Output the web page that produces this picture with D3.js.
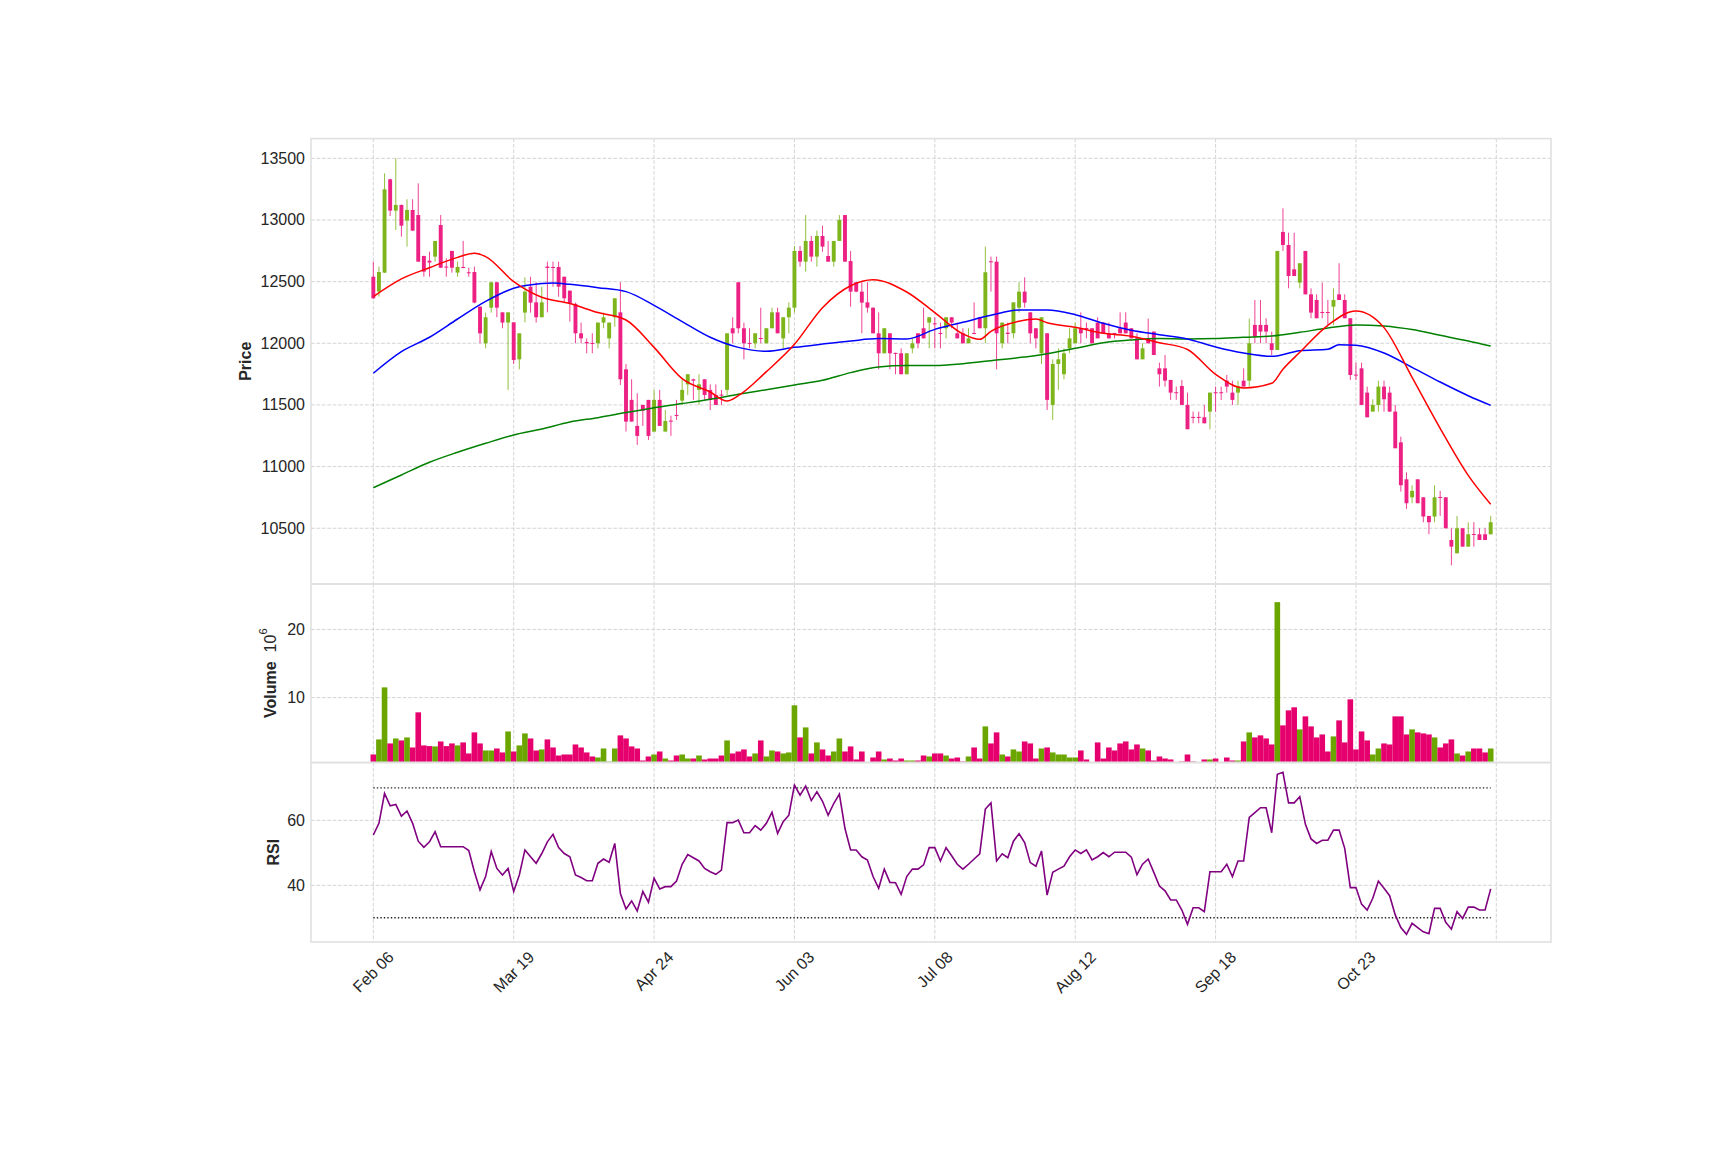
<!DOCTYPE html>
<html><head><meta charset="utf-8">
<script src="https://cdn.jsdelivr.net/npm/d3@7/dist/d3.min.js"></script>
<style>html,body{margin:0;padding:0;background:#fff;} svg{display:block;font-family:"Liberation Sans",Arial,sans-serif;}</style>
</head><body><svg id="c" width="1725" height="1150"></svg>
<script>
// ---------------- DATA ----------------
const tickIdx = [0,25,50,75,100,125,150,175,200];
const tickLabels = ["Feb 06","Mar 19","Apr 24","Jun 03","Jul 08","Aug 12","Sep 18","Oct 23",""];
const priceTicks = [10500,11000,11500,12000,12500,13000,13500];
const volTicks = [10,20];
const rsiTicks = [40,60];

const open = [12540,12419,12573,13330,13076,13122,12995,13081,13040,12708,12670,12703,12959,12622,12749,12573,12619,12576,12578,12297,12000,12289,12495,12251,12168,12170,11870,12249,12459,12332,12211,12622,12619,12619,12540,12427,12320,12081,12011,12003,12000,12168,12040,12211,12251,11789,11541,11330,11500,11541,11284,11541,11284,11373,11419,11535,11667,11708,11622,11708,11622,11581,11584,11622,12122,12495,12122,12003,12000,12043,12000,12122,12251,12040,12211,12289,12749,12662,12830,12703,12870,12708,12662,12830,13040,12667,12495,12419,12332,12289,12081,11919,12081,11922,11919,11749,11959,12081,12122,12168,12162,12084,12122,12211,12081,12081,12000,12084,12211,12122,12665,12662,12000,12086,12081,12289,12419,12251,12122,11919,12081,11500,11832,11749,11959,12000,12122,12124,12122,12168,12168,12081,12084,12122,12168,12122,12040,11870,12040,12095,11797,11797,11703,11603,11654,11500,11403,11403,11400,11446,11603,11603,11697,11600,11600,11697,11697,12149,12149,12149,12000,11946,12903,12797,12600,12492,12749,12397,12351,12254,12254,12297,12397,12351,12203,11746,11797,11600,11446,11500,11649,11600,11446,11197,10897,10751,10897,10751,10600,10595,10754,10751,10405,10297,10500,10351,10454,10451,10451,10451];
const high = [12662,12622,13378,13335,13500,13125,13168,13168,13297,12710,12743,12830,13040,12689,12750,12662,12830,12613,12622,12300,12249,12495,12495,12251,12251,12170,12081,12535,12540,12495,12459,12662,12662,12662,12540,12427,12330,12168,12040,12081,12168,12249,12168,12365,12495,11832,11708,11595,11500,11541,11622,11622,11459,11413,11541,11708,11749,11713,11749,11708,11667,11667,11622,12081,12211,12495,12168,12122,12081,12289,12122,12289,12289,12211,12332,12789,12789,13040,12870,12914,12954,12830,12830,13040,13040,12749,12500,12495,12495,12289,12251,12122,12081,11924,11959,11919,12040,12081,12289,12211,12211,12168,12211,12211,12168,12122,12122,12332,12211,12784,12703,12703,12168,12168,12332,12495,12535,12251,12122,12211,12081,11870,11959,11959,12122,12168,12251,12168,12122,12211,12168,12168,12084,12251,12251,12122,12081,12000,12200,12095,11843,11905,11703,11649,11703,11600,11446,11446,11500,11600,11649,11649,11743,11697,11697,11797,12200,12351,12351,12203,12095,12749,13095,12897,12897,12649,12749,12446,12397,12492,12351,12446,12649,12397,12203,11843,11843,11649,11546,11697,11697,11649,11500,11243,10954,10849,10897,10751,10600,10849,10803,10751,10500,10600,10500,10549,10549,10500,10500,10600];
const low = [12360,12378,12570,13032,12919,12865,12784,12910,12660,12540,12540,12662,12610,12540,12573,12540,12608,12540,12324,12000,11959,12249,12211,12122,11622,11832,11789,12170,12249,12168,12211,12251,12459,12378,12330,12176,12000,12000,11919,11919,11959,12122,11959,12135,11662,11284,11365,11176,11330,11216,11284,11330,11284,11249,11378,11500,11581,11541,11500,11541,11459,11500,11500,11581,12000,12081,11870,11959,11959,12000,12000,12122,12081,11959,12081,12249,12622,12581,12662,12622,12743,12662,12622,12830,12662,12297,12414,12081,12249,12081,11789,11919,11789,11749,11749,11749,11919,11959,12040,11959,11959,11959,12040,12122,12040,12000,12000,12073,12122,12000,12419,11789,11959,12000,12040,12249,12289,12000,11959,11832,11459,11378,11622,11708,11919,12000,12000,12040,12000,12040,12081,12040,12040,12081,12081,12040,11870,11870,12000,11905,11649,11649,11541,11541,11500,11303,11351,11351,11351,11303,11446,11541,11600,11500,11500,11649,11649,12000,12000,12000,11905,11946,12749,12446,12546,12446,12397,12203,12203,12203,12149,12149,12351,12203,11703,11703,11500,11400,11446,11446,11446,11446,11149,10797,10657,10703,10703,10549,10451,10549,10600,10500,10200,10297,10351,10351,10351,10405,10405,10451];
const close = [12365,12578,13249,13076,13122,12954,13081,12914,12662,12581,12655,12830,12613,12616,12613,12619,12613,12570,12330,12081,12211,12495,12289,12168,12251,11865,12081,12419,12330,12211,12332,12611,12613,12459,12365,12324,12081,12040,12000,11997,12168,12211,12168,12365,11708,11365,11365,11249,11454,11249,11541,11330,11370,11367,11413,11622,11749,11697,11667,11581,11541,11500,11578,12081,12081,12122,12000,11997,12081,12038,12122,12251,12081,12211,12289,12749,12662,12830,12703,12870,12784,12662,12830,13000,12662,12419,12419,12330,12289,12081,11919,12122,11919,11916,11749,11919,12000,12000,12040,12211,12157,12078,12211,12168,12040,12000,12040,12078,12122,12576,12659,12081,12168,12076,12332,12419,12330,12081,12040,12211,11541,11832,11870,11919,12040,12122,12081,12119,12000,12040,12081,12040,12078,12081,12081,12040,11870,11959,12000,11905,11749,11697,11600,11597,11500,11303,11397,11397,11351,11600,11597,11597,11649,11541,11649,11649,12000,12054,12095,12095,11946,12749,12797,12546,12546,12649,12397,12249,12203,12249,12249,12351,12351,12203,11743,11740,11500,11400,11500,11649,11546,11446,11149,10849,10703,10803,10703,10595,10549,10751,10749,10500,10351,10500,10351,10451,10449,10405,10405,10549];
// volume in millions of shares
const volume = [1.66,3.87,11.5,3.28,4.01,3.72,4.16,2.69,7.84,2.99,2.89,2.84,3.57,2.89,3.28,2.99,3.43,1.81,4.9,3.28,2.25,2.25,2.54,1.96,5.04,2.1,2.99,4.75,4.01,2.25,2.4,3.87,2.69,1.51,1.66,1.66,3.13,2.69,1.96,1.37,1.22,2.54,0.63,2.54,4.46,4.01,2.84,2.54,0.78,1.37,1.66,2.1,1.07,0.78,1.51,1.66,1.07,1.07,1.51,0.93,1.07,1.07,1.51,3.72,1.81,2.1,2.4,1.37,1.81,3.72,1.37,2.25,2.1,1.81,1.96,8.87,4.16,5.63,1.81,3.43,2.4,1.51,2.1,4.01,2.1,2.84,0.93,2.1,0.49,1.22,2.1,0.93,1.07,0.78,1.07,0.78,0.78,0.78,1.51,1.37,1.81,1.81,1.51,1.07,1.22,0.63,1.37,2.69,1.07,5.78,3.28,4.9,1.66,1.37,2.4,2.1,3.57,3.28,1.07,2.54,2.69,1.96,1.66,1.66,1.22,1.22,2.25,0.93,0.49,3.43,1.07,2.69,2.25,3.28,3.57,2.4,3.13,2.54,2.25,0.78,1.37,1.07,0.93,0.49,0.63,1.66,0.63,0.49,0.93,0.93,1.07,0.49,1.22,0.78,0.78,3.57,4.9,4.16,4.46,4.01,3.13,24.0,5.93,8.13,8.58,5.34,7.25,5.78,4.16,4.6,2.1,4.31,6.66,3.43,9.75,2.4,5.04,3.72,1.66,2.54,3.28,3.13,7.25,7.25,4.6,5.34,4.9,4.75,4.6,4.16,2.69,3.28,3.87,1.81,1.51,2.1,2.54,2.54,1.96,2.54];
const rsi = [55.5,59.1,68.3,64.5,64.9,61.3,62.9,59.1,53.6,51.7,53.4,56.5,51.9,51.9,51.9,51.9,51.9,50.7,44.2,38.6,42.7,50.4,45.2,43.2,45.2,38.1,43.2,50.9,48.8,46.8,49.8,53.4,55.7,51.6,49.8,48.8,43.2,42.4,41.4,41.4,46.8,48.1,47.1,52.9,37.5,32.7,35.2,32.1,38.1,34.8,42.2,38.9,39.6,39.6,41.3,46.5,49.5,48.5,47.5,45.2,44.2,43.4,44.7,59.3,59.3,60.1,56.2,56.2,58.4,57.0,59.1,62.5,56.0,59.6,61.6,70.9,67.8,70.6,66.1,68.8,65.9,61.6,65.2,68.1,57.5,50.9,50.9,48.8,47.8,42.7,39.1,45.0,40.9,40.8,37.2,42.7,45.0,45.0,46.3,51.6,51.6,47.5,51.6,49.1,46.5,45.0,46.5,48.1,49.7,63.5,65.4,47.5,49.7,48.5,53.6,55.9,53.2,47.0,45.9,50.6,37.0,44.0,45.0,45.9,48.8,50.9,49.8,50.9,47.8,48.8,50.1,48.8,50.2,50.2,50.2,48.7,43.3,46.5,48.1,44.0,39.8,38.3,35.5,35.5,32.4,28.0,33.1,33.1,31.9,44.2,44.2,44.2,46.5,42.7,47.5,47.5,60.9,62.4,63.9,63.9,56.2,74.2,74.8,65.4,65.4,67.3,58.8,54.3,52.9,53.9,53.9,57.0,57.0,51.4,39.3,39.3,34.2,32.4,36.0,41.3,39.1,36.8,30.9,27.0,24.9,28.3,27.0,25.7,25.1,32.9,32.9,28.6,26.5,31.9,29.8,33.3,33.3,32.4,32.4,38.9];
const rsiBands = [70,30];

// moving averages, read at sampled bar indices
const maShortIdx = [0,5,10,15,18,20,25,30,35,40,45,50,55,60,63,65,70,75,80,85,89,95,100,105,108,110,115,118,120,125,130,135,140,145,150,155,160,162,165,170,175,180,185,190,195,199];
const maShort = [12378,12522,12613,12697,12730,12703,12500,12373,12322,12249,12189,11967,11713,11605,11532,11575,11770,11992,12289,12467,12516,12416,12249,12076,12032,12097,12178,12197,12167,12130,12081,12057,12005,11950,11748,11638,11676,11790,11927,12146,12262,12127,11724,11311,10929,10694];
const maMidIdx = [0,5,10,15,20,25,30,32,35,40,45,50,55,60,65,70,75,80,85,90,95,100,105,110,115,120,125,130,135,140,145,150,155,160,165,170,172,175,180,185,190,195,199];
const maMid = [11757,11932,12049,12197,12340,12446,12484,12489,12478,12451,12419,12308,12176,12049,11967,11935,11967,11994,12019,12038,12035,12113,12170,12227,12270,12270,12232,12162,12105,12070,12035,11970,11921,11894,11940,11951,11989,11984,11921,11805,11686,11575,11497];
const maLongIdx = [0,5,10,15,20,25,30,35,40,45,50,55,60,65,70,75,80,85,90,95,100,105,110,115,120,125,130,135,140,145,150,155,160,165,170,175,180,185,190,195,199];
const maLong = [10829,10932,11035,11116,11189,11257,11305,11362,11397,11438,11478,11511,11546,11586,11624,11662,11700,11762,11808,11819,11819,11835,11859,11884,11916,11959,12005,12027,12038,12035,12038,12049,12059,12089,12124,12149,12140,12111,12065,12019,11978];

// ---------------- STYLE ----------------
const UP = "#7fb51c", DOWN = "#ec2183";
const VUP = "#6ba500", VDOWN = "#e6006e";
const GRID = "#cfcfcf", BORDER = "#e0e0e0", TXT = "#262626";

// ---------------- SCALES ----------------
const svg = d3.select("#c");
const P = {top:138.6, bot:584}, V = {top:584, bot:762.5}, R = {top:762.5, bot:942};
const L = 311, Rt = 1551;
const x = d3.scaleLinear().domain([-11.1, 209.74]).range([L, Rt]);
const yP = d3.scaleLinear().domain([10048, 13660]).range([P.bot, P.top]);
const yV = d3.scaleLinear().domain([0.485, 26.66]).range([V.bot, V.top]);
const yR = d3.scaleLinear().domain([22.55, 77.83]).range([R.bot, R.top]);

svg.append("rect").attr("width",1725).attr("height",1150).attr("fill","#fff");

// grid
const g = svg.append("g");
function hgrid(vals, sc){
  g.selectAll(null).data(vals).enter().append("line")
    .attr("x1",L).attr("x2",Rt).attr("y1",d=>sc(d)).attr("y2",d=>sc(d))
    .attr("stroke",GRID).attr("stroke-width",0.9).attr("stroke-dasharray","3.7,1.7");
}
hgrid(priceTicks,yP); hgrid(volTicks,yV); hgrid(rsiTicks,yR);
[P,V,R].forEach(pn=>{
  g.selectAll(null).data(tickIdx).enter().append("line")
    .attr("x1",d=>x(d)).attr("x2",d=>x(d)).attr("y1",pn.top).attr("y2",pn.bot)
    .attr("stroke",GRID).attr("stroke-width",0.9).attr("stroke-dasharray","3.7,1.7");
});

// candles
const idx = d3.range(open.length);
const cg = svg.append("g");
cg.selectAll(null).data(idx).enter().append("line")
  .attr("x1",i=>x(i)).attr("x2",i=>x(i))
  .attr("y1",i=>yP(high[i])).attr("y2",i=>yP(low[i]))
  .attr("stroke",i=>close[i]>=open[i]?UP:DOWN).attr("stroke-width",1).attr("stroke-opacity",0.85);
const bw = 3.9;
cg.selectAll(null).data(idx).enter().append("rect")
  .attr("x",i=>x(i)-bw/2).attr("width",bw)
  .attr("y",i=>yP(Math.max(open[i],close[i])))
  .attr("height",i=>Math.max(1,Math.abs(yP(open[i])-yP(close[i]))))
  .attr("fill",i=>close[i]>=open[i]?UP:DOWN);

// moving averages
function maLine(ix, vals, color){
  const pts = ix.map((d,k)=>[d, vals[k]]);
  svg.append("path").datum(pts)
    .attr("d", d3.line().x(d=>x(d[0])).y(d=>yP(d[1])).curve(d3.curveMonotoneX))
    .attr("fill","none").attr("stroke",color).attr("stroke-width",1.5);
}
maLine(maLongIdx, maLong, "#008000");
maLine(maMidIdx, maMid, "#0000ff");
maLine(maShortIdx, maShort, "#ff0000");

// volume
const vw = 5.615;
svg.append("g").selectAll(null).data(idx).enter().append("rect")
  .attr("x",i=>x(i)-vw/2).attr("width",vw)
  .attr("y",i=>yV(volume[i])).attr("height",i=>V.bot-yV(volume[i]))
  .attr("fill",i=>close[i]>=open[i]?VUP:VDOWN);

// RSI
svg.append("g").selectAll(null).data(rsiBands).enter().append("line")
  .attr("x1",x(0)).attr("x2",x(open.length-1)).attr("y1",d=>yR(d)).attr("y2",d=>yR(d))
  .attr("stroke","#222").attr("stroke-width",1.4).attr("stroke-dasharray","1.4,2.1");
svg.append("path").datum(idx)
  .attr("d", d3.line().x(i=>x(i)).y(i=>yR(rsi[i])))
  .attr("fill","none").attr("stroke","#800080").attr("stroke-width",1.6);

// panel borders
[P,V,R].forEach(pn=>{
  svg.append("rect").attr("x",L).attr("y",pn.top).attr("width",Rt-L).attr("height",pn.bot-pn.top)
    .attr("fill","none").attr("stroke",BORDER).attr("stroke-width",1.6);
});

// y tick labels
function ylabels(vals, sc){
  svg.append("g").selectAll(null).data(vals).enter().append("text")
    .attr("x",305).attr("y",d=>sc(d)).attr("text-anchor","end").attr("dominant-baseline","central")
    .attr("font-size",16).attr("fill",TXT).text(d=>d);
}
ylabels(priceTicks,yP); ylabels(volTicks,yV); ylabels(rsiTicks,yR);

// x tick labels (rotated 45 deg, bbox centred under tick)
tickIdx.forEach((d,k)=>{
  if(!tickLabels[k]) return;
  const t = svg.append("text").attr("font-size",16).attr("fill",TXT)
    .attr("text-anchor","middle").attr("dominant-baseline","central").text(tickLabels[k]);
  const len = t.node().getComputedTextLength();
  const bh = (len + 18) / Math.SQRT2;
  t.attr("transform",`translate(${x(d)},${R.bot + 6 + bh/2}) rotate(-45)`);
});

// axis titles
svg.append("text").attr("transform",`translate(245,${(P.top+P.bot)/2}) rotate(-90)`)
  .attr("text-anchor","middle").attr("dominant-baseline","central")
  .attr("font-size",16).attr("font-weight","bold").attr("fill",TXT).text("Price");
const vt = svg.append("text").attr("transform",`translate(270,${(V.top+V.bot)/2}) rotate(-90)`)
  .attr("text-anchor","middle").attr("dominant-baseline","central").attr("font-size",16).attr("fill",TXT);
vt.append("tspan").attr("font-weight","bold").text("Volume");
vt.append("tspan").attr("dx",9).text("10");
vt.append("tspan").attr("font-size",11).attr("dy",-7).text("6");
svg.append("text").attr("transform",`translate(273,${(R.top+R.bot)/2}) rotate(-90)`)
  .attr("text-anchor","middle").attr("dominant-baseline","central")
  .attr("font-size",16).attr("font-weight","bold").attr("fill",TXT).text("RSI");
</script></body></html>
